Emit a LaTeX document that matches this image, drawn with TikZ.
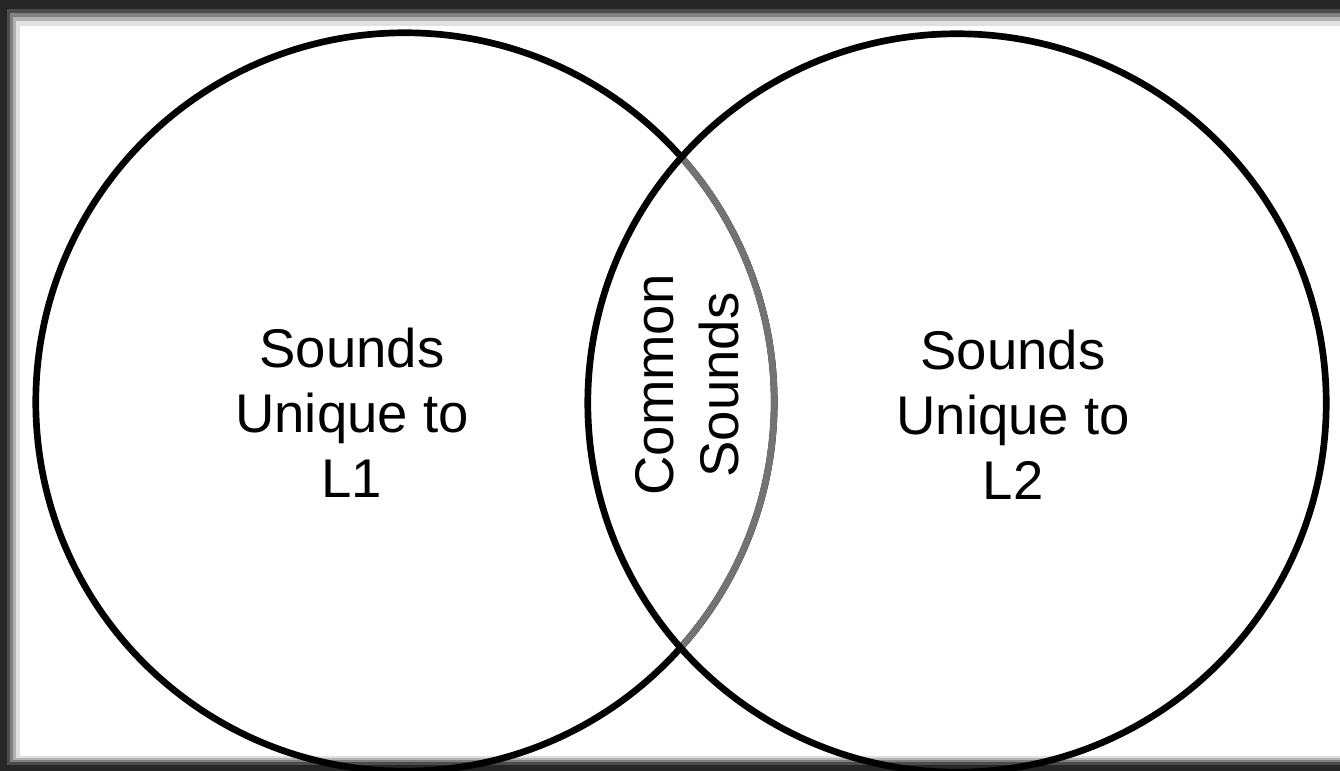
\documentclass[tikz,border=0pt]{standalone}
\usepackage{fontspec}
\setmainfont{Liberation Sans}
\begin{document}
\begin{tikzpicture}[x=0.01cm,y=-0.01cm,
	set/.style={draw,circle,line width=1.9pt,minimum size=7.38cm,inner sep=0pt,outer sep=0pt},
	lbl/.style={align=center,font=\fontsize{15.5}{18.5}\selectfont}]
\useasboundingbox (0,0) rectangle (1340,771);
% dark frame
\fill[black!85] (0,0) rectangle (1340,771);
\fill[black!70] (7,9) rectangle (1340,765);
\fill[black!50] (10,13) rectangle (1340,762);
\fill[black!30] (13,17) rectangle (1340,760);
\fill[black!12] (16,21) rectangle (1340,758);
\fill[white] (20,26) rectangle (1340,756);
\node[set] (L1set) at (405,402) {};
\draw[black!55,line width=1.9pt] (L1set.-42)
	arc[start angle=-42,end angle=42,radius=3.69cm];
\node[set] (L2set) at (957,403) {};
\node[lbl] (L1txt) at (352,413) {Sounds\\Unique to\\L1};
\node[lbl] (L2txt) at (1013,415) {Sounds\\Unique to\\L2};
\node[lbl,rotate=90] (common) at (687,385) {Common\\Sounds};
\end{tikzpicture}
\end{document}
